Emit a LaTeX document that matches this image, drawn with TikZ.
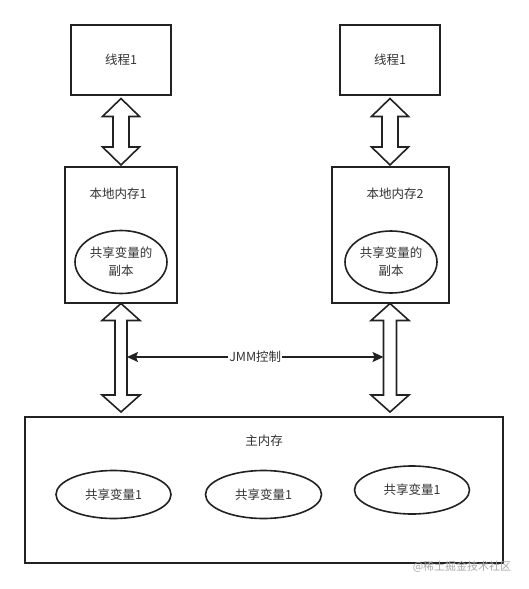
\documentclass[tikz,border=0pt]{standalone}
\usepackage{fontspec}
\setmainfont{Noto Sans CJK SC}
\usetikzlibrary{arrows.meta,shapes.geometric}
\definecolor{ln}{HTML}{222222}
\definecolor{tx}{HTML}{333333}
\tikzset{
  boxst/.style={draw=ln, line width=2pt, fill=white},
  ellst/.style={draw=ln, line width=1.6pt, ellipse, inner sep=0pt},
  lbl/.style={text=tx, font=\fontsize{12.5}{18}\selectfont, align=center, inner sep=0pt},
  blockarrow/.style={draw=ln, line width=1.6pt, fill=white, line join=miter},
  jmm/.style={draw=ln, line width=1.4pt, {Stealth[length=11pt,width=10pt,inset=2pt]}-{Stealth[length=11pt,width=10pt,inset=2pt]}}
}
% \dblarr{name}{cx}{ytop}{ybot}{headhalf}{shafthalf}{headlen}
\newcommand{\dblarr}[7]{%
  \draw[blockarrow] (#2,#3) -- (#2+#5,#3+#7) -- (#2+#6,#3+#7) -- (#2+#6,#4-#7)
    -- (#2+#5,#4-#7) -- (#2,#4) -- (#2-#5,#4-#7) -- (#2-#6,#4-#7)
    -- (#2-#6,#3+#7) -- (#2-#5,#3+#7) -- cycle;
  \coordinate (#1-l) at (#2-#6,{(#3+#4)/2});
  \coordinate (#1-r) at (#2+#6,{(#3+#4)/2});
}
\begin{document}
\begin{tikzpicture}[x=1pt,y=-1pt]
\useasboundingbox (0,0) rectangle (528,589);
% thread boxes
\draw[boxst] (71,25) rectangle (171,95);
\node[lbl] (t1) at (121,60) {线程1};
\draw[boxst] (340,25) rectangle (440,95);
\node[lbl] (t2) at (390,60) {线程1};
% local memory boxes
\draw[boxst] (65,167) rectangle (177,302.5);
\node[lbl] (lm1) at (118,194) {本地内存1};
\node[ellst, minimum width=92pt, minimum height=63pt] (c1) at (121,262) {};
\node[lbl] at (c1.center) {共享变量的\\副本};
\draw[boxst] (332,167) rectangle (449,302.5);
\node[lbl] (lm2) at (395,194) {本地内存2};
\node[ellst, minimum width=92pt, minimum height=62pt] (c2) at (391,262) {};
\node[lbl] at (c2.center) {共享变量的\\副本};
% main memory
\draw[boxst] (25,417) rectangle (503,563);
\node[lbl] (mm) at (264,441) {主内存};
\node[ellst, minimum width=115pt, minimum height=48pt] (v1) at (113.5,494.5) {};
\node[lbl] at (v1.center) {共享变量1};
\node[ellst, minimum width=116pt, minimum height=48pt] (v2) at (263.5,494.5) {};
\node[lbl] at (v2.center) {共享变量1};
\node[ellst, minimum width=115pt, minimum height=48pt] (v3) at (412,490) {};
\node[lbl] at (v3.center) {共享变量1};
% block double arrows
\dblarr{a1}{121}{98.5}{165}{18.5}{8}{18}
\dblarr{a2}{390}{98.5}{165}{18.5}{8}{18}
\dblarr{a3}{121}{303.5}{412}{19}{6}{17}
\dblarr{a4}{390}{303.5}{412}{19}{6.5}{17}
% JMM control
\coordinate (jl) at (127,357);
\coordinate (jr) at (383.5,357);
\draw[jmm] (jl) -- node[lbl, fill=white, inner xsep=1pt, inner ysep=2pt] {JMM控制} (jr);
% watermark
\node[text=black!35, font=\fontsize{11}{13}\selectfont, inner sep=0pt] (wm) at (462,567) {@稀土掘金技术社区};
\end{tikzpicture}
\end{document}
